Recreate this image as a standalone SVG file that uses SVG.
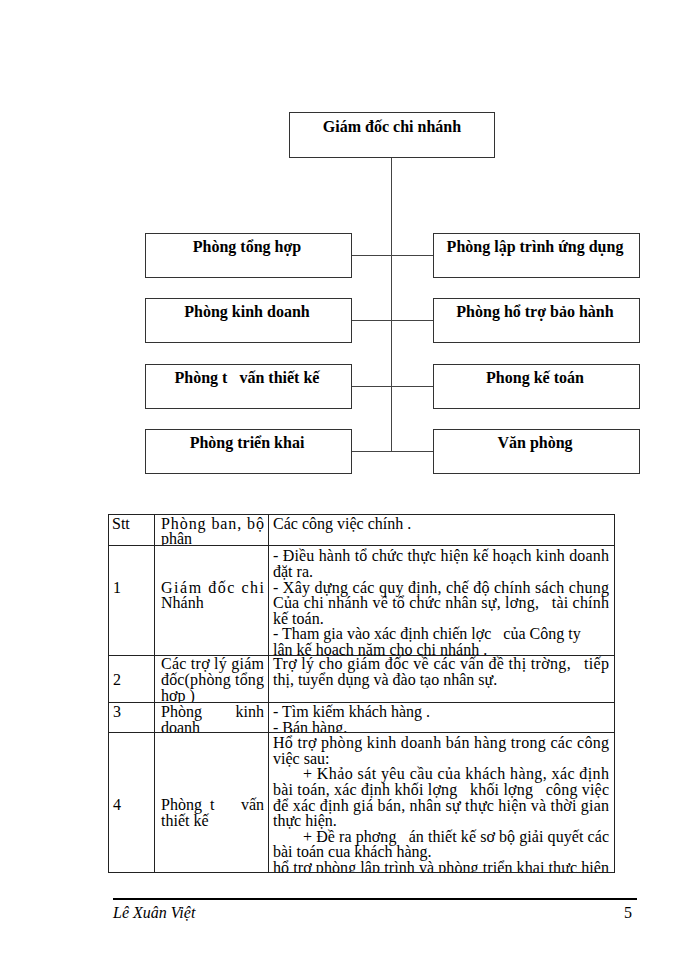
<svg xmlns="http://www.w3.org/2000/svg" width="700" height="960" viewBox="0 0 700 960">
<style>
.n rect{fill:#fff;stroke:#333;stroke-width:1}
.nt{font-family:"Liberation Serif","Times New Roman",serif;font-size:16px;font-weight:bold;text-anchor:middle;fill:#000;white-space:pre}
#connectors line{stroke:#444;stroke-width:1}
.t{font-family:"Liberation Serif","Times New Roman",serif;font-size:16px;fill:#000;white-space:pre}
.e{text-anchor:end}
#table line{stroke:#222;stroke-width:1}
.ft{font-family:"Liberation Serif","Times New Roman",serif;font-size:16px;fill:#000}
</style>
<defs>
<clipPath id="ch"><rect x="108" y="514" width="507" height="31.5"/></clipPath>
<clipPath id="c1"><rect x="108" y="545.5" width="507" height="110"/></clipPath>
<clipPath id="c2"><rect x="108" y="655.5" width="507" height="46.5"/></clipPath>
<clipPath id="c3"><rect x="108" y="702" width="507" height="30"/></clipPath>
<clipPath id="c4"><rect x="108" y="732" width="507" height="141"/></clipPath>
</defs>
<rect width="700" height="960" fill="#fff"/>

<g id="connectors">
<line x1="391.5" y1="157.5" x2="391.5" y2="451.5"/>
<line x1="351.5" y1="255.5" x2="433.5" y2="255.5"/>
<line x1="351.5" y1="320.5" x2="433.5" y2="320.5"/>
<line x1="351.5" y1="386.5" x2="433.5" y2="386.5"/>
<line x1="351.5" y1="451.5" x2="433.5" y2="451.5"/>
</g>

<g id="giam-doc" class="n"><rect x="289.5" y="112.5" width="205" height="45"/><text class="nt" x="392" y="132">Giám đốc chi nhánh</text></g>
<g id="phong-tong-hop" class="n"><rect x="145.5" y="233.5" width="206" height="44"/><text class="nt" x="247" y="252">Phòng tổng hợp</text></g>
<g id="phong-lap-trinh" class="n"><rect x="433.5" y="233.5" width="206" height="44"/><text class="nt" x="535" y="252">Phòng lập trình ứng dụng</text></g>
<g id="phong-kinh-doanh" class="n"><rect x="145.5" y="298.5" width="206" height="44"/><text class="nt" x="247" y="317">Phòng kinh doanh</text></g>
<g id="phong-ho-tro" class="n"><rect x="433.5" y="298.5" width="206" height="44"/><text class="nt" x="535" y="317">Phòng hổ trợ bảo hành</text></g>
<g id="phong-tu-van" class="n"><rect x="145.5" y="364.5" width="206" height="44"/><text class="nt" x="247" y="383">Phòng t   vấn thiết kế</text></g>
<g id="phong-ke-toan" class="n"><rect x="433.5" y="364.5" width="206" height="44"/><text class="nt" x="535" y="383">Phong kế toán</text></g>
<g id="phong-trien-khai" class="n"><rect x="145.5" y="429.5" width="206" height="44"/><text class="nt" x="247" y="448">Phòng triển khai</text></g>
<g id="van-phong" class="n"><rect x="433.5" y="429.5" width="206" height="44"/><text class="nt" x="535" y="448">Văn phòng</text></g>

<g id="table">
<g clip-path="url(#ch)">
<text class="t" x="112" y="528.5">Stt</text>
<text class="t" x="161" y="528.5" textLength="103">Phòng ban, bộ</text>
<text class="t" x="161" y="544.2">phận</text>
<text class="t" x="273" y="528.5">Các công việc chính .</text>
</g>
<g clip-path="url(#c1)">
<text class="t" x="113" y="592.6">1</text>
<text class="t" x="161" y="592.6" textLength="103">Giám đốc chi</text>
<text class="t" x="161" y="608.2">Nhánh</text>
<text class="t" x="273" y="561.4" textLength="336">- Điều hành tổ chức thực hiện kế hoạch kinh doanh</text>
<text class="t" x="273" y="577">đặt ra.</text>
<text class="t" x="273" y="592.6" textLength="336">- Xây dựng các quy định, chế độ chính sách chung</text>
<text class="t" x="273" y="608.2" textLength="336">Của chi nhánh về tổ chức nhân sự, lơng,   tài chính</text>
<text class="t" x="273" y="623.8">kế toán.</text>
<text class="t" x="273" y="639.4">- Tham gia vào xác định chiến lợc   của Công ty</text>
<text class="t" x="273" y="655">lân kế hoạch năm cho chi nhánh .</text>
</g>
<g clip-path="url(#c2)">
<text class="t" x="113" y="685">2</text>
<text class="t" x="161" y="669.4" textLength="103">Các trợ lý giám</text>
<text class="t" x="161" y="685" textLength="103">đốc(phòng tổng</text>
<text class="t" x="161" y="700.6">hợp )</text>
<text class="t" x="273" y="669.4" textLength="336">Trợ lý cho giám đốc về các vấn đề thị trờng,   tiếp</text>
<text class="t" x="273" y="685">thị, tuyển dụng và đào tạo nhân sự.</text>
</g>
<g clip-path="url(#c3)">
<text class="t" x="113" y="717">3</text>
<text class="t" x="161" y="717">Phòng</text>
<text class="t e" x="264" y="717">kinh</text>
<text class="t" x="161" y="732.6">doanh</text>
<text class="t" x="273" y="717">- Tìm kiếm khách hàng .</text>
<text class="t" x="273" y="732.6">- Bán hàng.</text>
</g>
<g clip-path="url(#c4)">
<text class="t" x="113" y="810.4">4</text>
<text class="t" x="161" y="810.4">Phòng</text>
<text class="t" x="210" y="810.4">t</text>
<text class="t e" x="264" y="810.4">vấn</text>
<text class="t" x="161" y="826">thiết kế</text>
<text class="t" x="273" y="748.2" textLength="336">Hổ trợ phòng kinh doanh bán hàng trong các công</text>
<text class="t" x="273" y="763.8">việc sau:</text>
<text class="t" x="303" y="779.4" textLength="306">+ Khảo sát yêu cầu của khách hàng, xác định</text>
<text class="t" x="273" y="795" textLength="336">bài toán, xác định khối lợng   khối lợng   công việc</text>
<text class="t" x="273" y="810.6" textLength="336">để xác định giá bán, nhân sự thực hiện và thời gian</text>
<text class="t" x="273" y="826.2">thực hiện.</text>
<text class="t" x="303" y="841.8" textLength="306">+ Đề ra phơng   án thiết kế sơ bộ giải quyết các</text>
<text class="t" x="273" y="857.4">bài toán cua khách hàng.</text>
<text class="t" x="273" y="873" textLength="336">hổ trợ phòng lập trình và phòng triển khai thực hiện</text>
</g>
<line x1="108" y1="514.5" x2="615" y2="514.5"/>
<line x1="108" y1="545.5" x2="615" y2="545.5"/>
<line x1="108" y1="655.5" x2="615" y2="655.5"/>
<line x1="108" y1="702.5" x2="615" y2="702.5"/>
<line x1="108" y1="732.5" x2="615" y2="732.5"/>
<line x1="108" y1="872.5" x2="615" y2="872.5"/>
<line x1="108.5" y1="514" x2="108.5" y2="873"/>
<line x1="154.5" y1="514" x2="154.5" y2="873"/>
<line x1="268.5" y1="514" x2="268.5" y2="873"/>
<line x1="614.5" y1="514" x2="614.5" y2="873"/>
</g>

<g id="footer">
<line x1="113" y1="899" x2="637" y2="899" stroke="#000" stroke-width="2"/>
<text class="ft" x="113" y="918" font-style="italic">Lê Xuân Việt</text>
<text class="ft" x="624" y="918">5</text>
</g>
</svg>
